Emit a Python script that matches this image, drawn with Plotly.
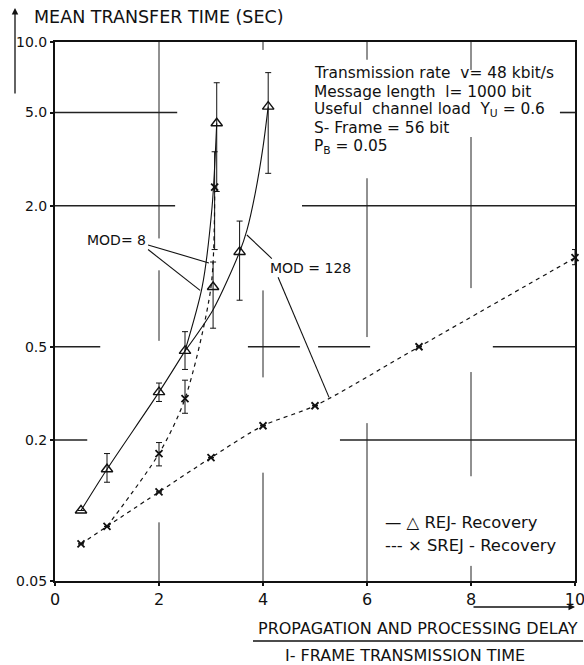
import numpy as np
import plotly.graph_objects as go

# ---------------- data ----------------
# REJ recovery (solid line, triangles)
rej_common_x = [0.5, 1.0, 2.0, 2.5]
rej_common_y = [0.10, 0.15, 0.32, 0.48]
rej_mod8_x = [2.5, 2.83, 3.02, 3.11]
rej_mod8_y = [0.48, 0.90, 1.97, 4.5]
rej_mod128_x = [2.5, 3.04, 3.55, 3.69, 3.85, 4.0, 4.1]
rej_mod128_y = [0.48, 0.72, 1.27, 1.57, 2.26, 3.56, 5.3]
rej_pts_x = [0.5, 1.0, 2.0, 2.5, 3.04, 3.11, 3.55, 4.1]
rej_pts_y = [0.10, 0.15, 0.32, 0.48, 0.90, 4.5, 1.27, 5.3]
rej_err_plus = [0, 0.025, 0.03, 0.10, 0.25, 2.2, 0.45, 2.1]
rej_err_minus = [0, 0.018, 0.028, 0.08, 0.30, 2.2, 0.48, 2.55]

# SREJ recovery (dashed line, crosses)
srej_common_x = [0.5, 1.0]
srej_common_y = [0.072, 0.0855]
srej_mod8_x = [1.0, 2.0, 2.5, 3.0, 3.07]
srej_mod8_y = [0.0855, 0.175, 0.30, 0.90, 2.4]
srej_mod128_x = [1.0, 2.0, 3.0, 4.0, 5.0, 7.0, 10.0]
srej_mod128_y = [0.0855, 0.12, 0.168, 0.23, 0.28, 0.50, 1.2]
srej_pts_x = [0.5, 1.0, 2.0, 2.5, 3.07, 2.0, 3.0, 4.0, 5.0, 7.0, 10.0]
srej_pts_y = [0.072, 0.0855, 0.175, 0.30, 2.4, 0.12, 0.168, 0.23, 0.28, 0.50, 1.2]
srej_err_plus = [0, 0, 0.02, 0.06, 1.0, 0, 0, 0, 0, 0, 0.1]
srej_err_minus = [0, 0, 0.02, 0.04, 1.1, 0, 0, 0, 0, 0, 0.08]

x_ticks = [0, 2, 4, 6, 8, 10]
x_ticktext = ["0", "2", "4", "6", "8", "10"]
y_ticks = [0.05, 0.2, 0.5, 2.0, 5.0, 10.0]
y_ticktext = ["0.05", "0.2", "0.5", "2.0", "5.0", "10.0"]

info_lines = [
    "Transmission rate  v= 48 kbit/s",
    "Message length  l= 1000 bit",
    "Useful  channel load  Y<sub>U</sub> = 0.6",
    "S- Frame = 56 bit",
    "P<sub>B</sub> = 0.05",
]

# partial grid segments (x, y0, y1) and (y, x0, x1)
v_grid = [(2, 10, 1.45), (2, 1.06, 0.53), (2, 0.089, 0.05),
          (4, 10, 9.25), (4, 0.87, 0.37), (4, 0.145, 0.05),
          (6, 10, 8.4), (6, 2.62, 0.55), (6, 0.236, 0.05),
          (8, 10, 7.6), (8, 3.93, 0.89), (8, 0.39, 0.14), (8, 0.058, 0.05)]
h_grid = [(5.0, 0, 2.35), (5.0, 9.71, 10),
          (2.0, 0, 2.31), (2.0, 4.75, 10),
          (0.5, 0, 0.87), (0.5, 3.71, 4.71), (0.5, 5.06, 6.06), (0.5, 8.42, 10),
          (0.2, 0, 0.62), (0.2, 5.48, 10)]

YMIN, YMAX = 0.05, 10.0
LMIN, LMAX = np.log10(YMIN), np.log10(YMAX)

# plot area in page pixels
PL, PR, PT, PB = 55, 575, 42, 581
PW, PH = PR - PL, PB - PT


def pxx(x):
    return x / 10.0


def pyy(y):
    return (np.log10(y) - LMIN) / (LMAX - LMIN)


def ppx(px):
    return (px - PL) / PW


def ppy(py):
    return (PB - py) / PH


FONT = "DejaVu Sans"
INK = "#111111"

fig = go.Figure()

line_solid = dict(color=INK, width=1.1, shape="spline", smoothing=0.8)
line_dash = dict(color=INK, width=1.2, dash="4px,4px", shape="spline", smoothing=0.8)

for xs, ys in [(rej_common_x, rej_common_y), (rej_mod8_x, rej_mod8_y), (rej_mod128_x, rej_mod128_y)]:
    fig.add_trace(go.Scatter(x=xs, y=ys, mode="lines", line=line_solid, showlegend=False, hoverinfo="skip"))
for xs, ys in [(srej_common_x, srej_common_y), (srej_mod8_x, srej_mod8_y), (srej_mod128_x, srej_mod128_y)]:
    fig.add_trace(go.Scatter(x=xs, y=ys, mode="lines", line=line_dash, showlegend=False, hoverinfo="skip"))

fig.add_trace(go.Scatter(
    x=rej_pts_x, y=rej_pts_y, mode="markers", showlegend=False, cliponaxis=False,
    marker=dict(symbol="triangle-up-open", size=10, color=INK, line=dict(width=1.4, color=INK)),
    error_y=dict(type="data", symmetric=False, array=rej_err_plus, arrayminus=rej_err_minus,
                 color=INK, thickness=1, width=3)))
fig.add_trace(go.Scatter(
    x=srej_pts_x, y=srej_pts_y, mode="markers", showlegend=False, cliponaxis=False,
    marker=dict(symbol="x-thin-open", size=7, color=INK, line=dict(width=1.8, color=INK)),
    error_y=dict(type="data", symmetric=False, array=srej_err_plus, arrayminus=srej_err_minus,
                 color=INK, thickness=1, width=3)))

shapes = []
for x, y0, y1 in v_grid:
    shapes.append(dict(type="line", xref="paper", yref="paper", x0=pxx(x), x1=pxx(x),
                       y0=pyy(y0), y1=pyy(y1), line=dict(color="#222", width=1)))
for y, x0, x1 in h_grid:
    shapes.append(dict(type="line", xref="paper", yref="paper", x0=pxx(x0), x1=pxx(x1),
                       y0=pyy(y), y1=pyy(y), line=dict(color="#222", width=1.6)))

# pointer lines for MOD labels
pointers = [((1.79, 1.36), (2.96, 1.14)), ((1.79, 1.30), (2.79, 0.87)),
            ((4.17, 1.19), (3.69, 1.50)), ((4.29, 0.99), (5.27, 0.304))]
for (xa, ya), (xb, yb) in pointers:
    shapes.append(dict(type="line", xref="paper", yref="paper", x0=pxx(xa), y0=pyy(ya),
                       x1=pxx(xb), y1=pyy(yb), line=dict(color=INK, width=1.1)))

# fraction bar under x-axis title
shapes.append(dict(type="line", xref="paper", yref="paper", x0=ppx(253), x1=ppx(583),
                   y0=ppy(641), y1=ppy(641), line=dict(color=INK, width=1.3)))

annotations = []
annotations.append(dict(xref="paper", yref="paper", x=pxx(1.19), y=pyy(1.43), text="MOD= 8",
                        xanchor="center", yanchor="middle",
                        showarrow=False, font=dict(size=14, family=FONT, color=INK)))
annotations.append(dict(xref="paper", yref="paper", x=pxx(4.92), y=pyy(1.08), text="MOD = 128",
                        xanchor="center", yanchor="middle",
                        showarrow=False, font=dict(size=14, family=FONT, color=INK)))

info_y = [73, 92, 110, 128, 147]
for t, yy in zip(info_lines, info_y):
    annotations.append(dict(xref="paper", yref="paper", x=ppx(312), y=ppy(yy), text=t,
                            xanchor="left", yanchor="middle", showarrow=False,
                            font=dict(size=15.4, family=FONT, color=INK)))

# legend lines
annotations.append(dict(xref="paper", yref="paper", x=ppx(383), y=ppy(522),
                        text="— △ REJ- Recovery", xanchor="left", yanchor="middle", showarrow=False,
                        font=dict(size=16.4, family=FONT, color=INK)))
annotations.append(dict(xref="paper", yref="paper", x=ppx(383), y=ppy(545),
                        text="--- × SREJ - Recovery", xanchor="left", yanchor="middle", showarrow=False,
                        font=dict(size=16.4, family=FONT, color=INK)))

# y-axis title with arrow
annotations.append(dict(xref="paper", yref="paper", x=ppx(32), y=ppy(17),
                        text="MEAN TRANSFER TIME (SEC)", xanchor="left", yanchor="middle",
                        showarrow=False, font=dict(size=17.5, family=FONT, color=INK)))
annotations.append(dict(xref="paper", yref="paper", x=ppx(15), y=ppy(8),
                        text="", showarrow=True, ax=0, ay=87, arrowhead=2, arrowsize=1,
                        arrowwidth=1.3, arrowcolor=INK))

# x-axis title with arrow
annotations.append(dict(xref="paper", yref="paper", x=1.0, y=ppy(607),
                        text="", showarrow=True, ax=-103, ay=0, arrowhead=2, arrowsize=1,
                        arrowwidth=1.3, arrowcolor=INK))
annotations.append(dict(xref="paper", yref="paper", x=ppx(418), y=ppy(628),
                        text="PROPAGATION AND PROCESSING DELAY", showarrow=False,
                        xanchor="center", yanchor="middle",
                        font=dict(size=16, family=FONT, color=INK)))
annotations.append(dict(xref="paper", yref="paper", x=ppx(405), y=ppy(655),
                        text="I- FRAME TRANSMISSION TIME", showarrow=False,
                        xanchor="center", yanchor="middle",
                        font=dict(size=16, family=FONT, color=INK)))

W, H = 584, 665
fig.update_layout(
    width=W, height=H,
    margin=dict(l=PL, r=W - PR, t=PT, b=H - PB, autoexpand=False),
    paper_bgcolor="white", plot_bgcolor="white",
    font=dict(family=FONT, color=INK, size=14),
    shapes=shapes, annotations=annotations,
    showlegend=False,
)
fig.update_xaxes(range=[0, 10], tickvals=x_ticks, ticktext=x_ticktext, showgrid=False, zeroline=False,
                 showline=True, linecolor=INK, linewidth=2, mirror=True, automargin=False,
                 ticklabeloverflow="allow",
                 ticks="outside", ticklen=3, tickwidth=1.5, tickcolor=INK,
                 tickfont=dict(size=16, family=FONT, color=INK))
fig.update_yaxes(type="log", range=[LMIN, LMAX], tickvals=y_ticks, ticktext=y_ticktext,
                 showgrid=False, zeroline=False, automargin=False,
                 ticklabeloverflow="allow",
                 showline=True, linecolor=INK, linewidth=2, mirror=True,
                 ticks="outside", ticklen=3, tickwidth=1.5, tickcolor=INK,
                 tickfont=dict(size=14, family=FONT, color=INK))

fig.write_html("out.html", config={"displayModeBar": False},
               post_script="document.body.style.margin='0';document.body.style.overflow='hidden';")
